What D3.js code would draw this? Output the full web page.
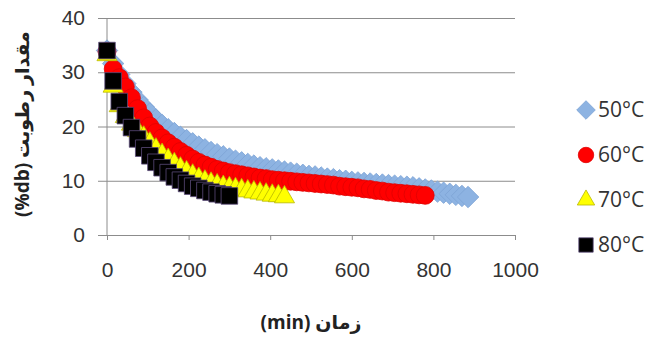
<!DOCTYPE html>
<html>
<head>
<meta charset="utf-8">
<script src="https://cdn.jsdelivr.net/npm/d3@7"></script>
<style>
  body { margin: 0; background: #fff; }
  svg { display: block; font-family: "Open Sans", "DejaVu Sans", sans-serif; }
</style>
</head>
<body>
<svg id="chart" width="650" height="341"></svg>
<script>
// drying time (min), sampled every 15 min
const timesMin = [0, 15, 30, 45, 60, 75, 90, 105, 120, 135, 150, 165, 180, 195, 210, 225, 240, 255, 270, 285,
    300, 315, 330, 345, 360, 375, 390, 405, 420, 435, 450, 465, 480, 495, 510, 525, 540, 555, 570, 585,
    600, 615, 630, 645, 660, 675, 690, 705, 720, 735, 750, 765, 780, 795, 810, 825, 840, 855, 870, 885];

// moisture content (%db)
const moist50 = [34.0, 31.6, 29.6, 27.9, 26.3, 24.9, 23.6, 22.4, 21.3, 20.3, 19.5, 18.8, 18.1, 17.5, 16.9, 16.3,
    15.8, 15.3, 14.9, 14.5, 14.1, 13.7, 13.4, 13.1, 12.8, 12.5, 12.3, 12.1, 11.9, 11.7, 11.5, 11.3, 11.1, 10.9,
    10.8, 10.6, 10.4, 10.3, 10.1, 10.0, 9.8, 9.7, 9.6, 9.5, 9.4, 9.3, 9.2, 9.1, 9.0, 8.9, 8.8, 8.6, 8.4, 8.2,
    8.0, 7.8, 7.6, 7.4, 7.2, 7.0];
const moist60 = [33.8, 30.6, 29.0, 27.3, 25.3, 23.3, 21.6, 20.1, 18.9, 17.9, 17.0, 16.2, 15.4, 14.7, 14.0, 13.4,
    12.9, 12.5, 12.1, 11.8, 11.5, 11.3, 11.1, 10.9, 10.7, 10.5, 10.4, 10.2, 10.1, 10.0, 9.9, 9.8, 9.7, 9.6,
    9.5, 9.4, 9.3, 9.2, 9.0, 8.9, 8.8, 8.7, 8.5, 8.4, 8.2, 8.1, 7.9, 7.8, 7.7, 7.6, 7.5, 7.4, 7.3];
const moist70 = [33.2, 27.4, 23.8, 21.8, 20.4, 19.2, 18.0, 16.9, 15.8, 14.8, 13.9, 13.1, 12.3, 11.6, 11.0, 10.4,
    9.9, 9.5, 9.2, 8.9, 8.7, 8.5, 8.3, 8.1, 7.9, 7.7, 7.5, 7.3, 7.2, 7.0];
const moist80 = [34.0, 28.4, 24.6, 22.0, 19.8, 17.7, 16.0, 14.6, 13.4, 12.4, 11.5, 10.7, 10.1, 9.5, 9.0, 8.6,
    8.2, 7.9, 7.6, 7.4, 7.2];

const seriesNames = ["50°C", "60°C", "70°C", "80°C"];
const xTicks = [0, 200, 400, 600, 800, 1000];
const yTicks = [0, 10, 20, 30, 40];

const seriesStyle = [
    {fill: "#8db3e2", stroke: "#7ea4d6", symbol: d3.symbolSquare, size: 230, rotate: 45},
    {fill: "#ff0000", stroke: "#e00000", symbol: d3.symbolCircle, size: 250, rotate: 0},
    {fill: "#ffff00", stroke: "#b8b800", symbol: d3.symbolTriangle, size: 175, rotate: 0},
    {fill: "#000000", stroke: "#5a4a78", symbol: d3.symbolSquare, size: 275, rotate: 0}
];
const allValues = [moist50, moist60, moist70, moist80];

const svg = d3.select("#chart");
const margin = {left: 107, right: 515, top: 18, bottom: 235, gridStart: 98};

const x = d3.scaleLinear().domain([0, 1000]).range([margin.left, margin.right]);
const y = d3.scaleLinear().domain([0, 40]).range([margin.bottom, margin.top]);

// horizontal gridlines + y labels
const yAxis = svg.append("g")
    .attr("transform", `translate(${margin.right},0)`)
    .call(d3.axisLeft(y).tickValues(yTicks).tickSize(margin.right - margin.gridStart).tickPadding(13));
yAxis.select(".domain").remove();
yAxis.selectAll("line").attr("stroke", "#8c8c8c");
yAxis.selectAll("text").attr("fill", "#333").style("font-size", "21px");

// vertical axis line
svg.append("line")
    .attr("x1", x(0)).attr("x2", x(0))
    .attr("y1", y(40)).attr("y2", y(0))
    .attr("stroke", "#8c8c8c");

// x axis ticks + labels
const xAxis = svg.append("g")
    .attr("transform", `translate(0,${margin.bottom})`)
    .call(d3.axisBottom(x).tickValues(xTicks).tickFormat(d3.format("d")).tickSize(5).tickPadding(22));
xAxis.select(".domain").remove();
xAxis.selectAll("line").attr("stroke", "#8c8c8c");
xAxis.selectAll("text").attr("fill", "#333").style("font-size", "21px");

// markers
allValues.forEach((vals, i) => {
    const st = seriesStyle[i];
    const pts = vals.map((v, j) => ({t: timesMin[j], v: v}));
    svg.append("g")
        .selectAll("path")
        .data(pts)
        .enter().append("path")
            .attr("d", d3.symbol().type(st.symbol).size(st.size))
            .attr("transform", d => `translate(${x(d.t)},${y(d.v)}) rotate(${st.rotate})`)
            .attr("fill", st.fill)
            .attr("stroke", st.stroke)
            .attr("stroke-width", 0.8);
});

// legend
const legend = svg.append("g")
    .selectAll("g")
        .data(seriesNames)
    .enter().append("g")
        .attr("transform", (d, i) => `translate(586,${110 + i * 45})`);

legend.append("path")
    .attr("d", (d, i) => d3.symbol().type(seriesStyle[i].symbol).size(seriesStyle[i].size * 0.75)())
    .attr("transform", (d, i) => `rotate(${seriesStyle[i].rotate})`)
    .attr("fill", (d, i) => seriesStyle[i].fill)
    .attr("stroke", (d, i) => seriesStyle[i].stroke)
    .attr("stroke-width", 0.8);

legend.append("text")
    .attr("x", 12)
    .attr("dy", "0.35em")
    .attr("fill", "#333")
    .style("font-size", "21px")
    .text(d => d);

// axis titles
svg.append("text")
    .attr("transform", "translate(29,124) rotate(-90)")
    .attr("text-anchor", "middle")
    .attr("fill", "#222")
    .style("font-size", "19px")
    .style("font-weight", "bold")
    .text("(%db) مقدار رطوبت");

svg.append("text")
    .attr("x", 311)
    .attr("y", 329)
    .attr("text-anchor", "middle")
    .attr("fill", "#222")
    .style("font-size", "19px")
    .style("font-weight", "bold")
    .text("(min) زمان");
</script>
</body>
</html>
